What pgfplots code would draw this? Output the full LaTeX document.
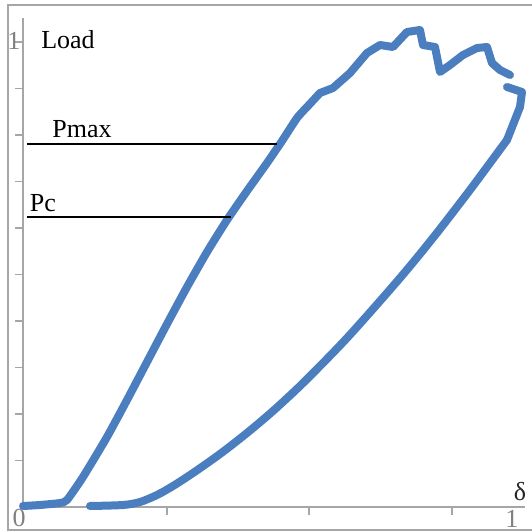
\documentclass[border=0pt]{standalone}
\usepackage{pgfplots}
\pgfplotsset{compat=1.18}
\usepackage{fontspec}
\setmainfont{Liberation Serif}
\definecolor{curve}{HTML}{4A7EBF}
\definecolor{axgray}{HTML}{A6A6A6}
\definecolor{labgray}{HTML}{808080}
\begin{document}
\begin{tikzpicture}
\useasboundingbox (0,0) rectangle (266pt,265.5pt);
\begin{axis}[
  at={(11.5pt,12pt)}, anchor=south west,
  scale only axis, width=251pt, height=244.5pt,
  xmin=0, xmax=502, ymin=0, ymax=489,
  axis x line*=bottom, axis y line*=left,
  axis line style={axgray, line width=1pt},
  tick style={axgray, line width=0.8pt},
  tick align=outside, major tick length=3.8pt,
  xtick={144,286,429},
  ytick={46.5,93,139.5,186,232.5,279,325.5,372,418.5,465},
  xticklabels={}, yticklabels={},
  clip=false,
]
% loading branch, lower part
\addplot[curve, line width=4pt, line join=round, line cap=round, smooth, tension=0.35] coordinates {
(0,1) (17,2) (37,4) (44,7) (60,30) (84,70) (104,107) (124,145) (144,183)
(164,220) (184,255) (204,287) (224,316) (244,344) (259,366) (274,389) (284,400)};
% loading branch, upper jagged part
\addplot[curve, line width=4pt, line join=round, line cap=round] coordinates {
(284,400) (297,414) (310,419) (327,434) (344,454) (357,462) (370,460) (384,475) (397,477)
(400,462) (412,460) (417,435) (427,442) (440,452) (454,459) (464,460) (469,444)
(477,437) (487,432)};
% unloading branch
\addplot[curve, line width=4pt, line join=round, line cap=round] coordinates {
(484,420) (499,415) (497,400) (484,367)};
\addplot[curve, line width=4pt, line join=round, line cap=round, smooth, tension=0.5] coordinates {
(484,367) (467,344) (450,321) (434,300) (417,278) (397,253) (377,229) (350,198)
(324,169) (300,144) (277,121) (250,96) (224,74) (197,53) (170,34) (150,21)
(134,12) (117,5) (100,2) (67,1)};
\addplot[black, line width=1pt] coordinates {(4,362.5) (254,362.5)};
\addplot[black, line width=1pt] coordinates {(4,290) (208,290)};
\node[font=\fontsize{13}{15}\selectfont] at (axis cs:45,467) {Load};
\node[font=\fontsize{13}{15}\selectfont] at (axis cs:59,378) {Pmax};
\node[font=\fontsize{13}{15}\selectfont] at (axis cs:20,304) {Pc};
\node[font=\fontsize{13}{15}\selectfont, text=black!85] at (axis cs:497,15) {δ};
\node[font=\fontsize{13}{15}\selectfont, text=labgray] at (axis cs:-4,-11) {0};
\node[font=\fontsize{13}{15}\selectfont, text=labgray] at (axis cs:489,-12) {1};
\node[font=\fontsize{13}{15}\selectfont, text=labgray] at (axis cs:-9,466) {1};
\end{axis}
\draw[axgray, line width=1pt] (266pt,263pt) -- (4pt,263pt) -- (4pt,0.5pt) -- (266pt,0.5pt);
\end{tikzpicture}
\end{document}
